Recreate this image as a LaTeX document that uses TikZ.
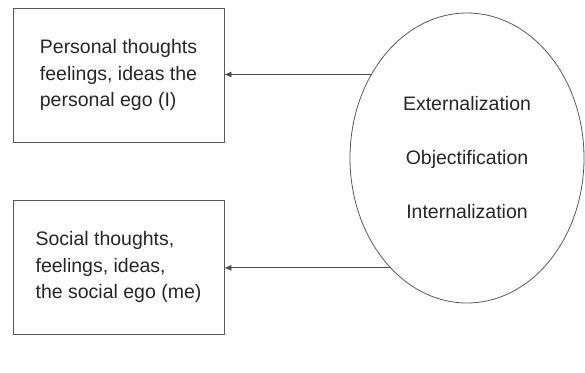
\documentclass[tikz,border=0pt]{standalone}
\usepackage{fontspec}
\setmainfont{Liberation Sans}
\usepackage{tikz}
\usetikzlibrary{arrows.meta,shapes.geometric}

\begin{document}
\begin{tikzpicture}[x=1pt,y=-1pt,
  box/.style={draw=black!65, line width=0.8pt, minimum width=211pt, minimum height=134pt, align=left, inner sep=0pt, text=black!85, font=\fontsize{19.5}{26.5}\selectfont},
  phase/.style={ellipse, draw=black!65, line width=0.8pt, minimum width=234pt, minimum height=290pt, inner sep=0pt, align=center, text=black!85, font=\fontsize{19.5}{54}\selectfont},
  arr/.style={-{Latex[length=7pt,width=6pt]}, color=black!70, line width=0.8pt}]
\useasboundingbox (0,0) rectangle (585,372);

\node[box] (b_1) at (118.5,75) {Personal thoughts\\feelings, ideas the\\personal ego (I)};
\node[box] (b_2) at (118.5,267) {Social thoughts,\\feelings, ideas,\\the social ego (me)};
\node[phase] (c_0) at (467,158) {Externalization\\Objectification\\Internalization};

\path[arr]
(c_0.139) edge (c_0.139 -| b_1.east)
(c_0.235) edge (c_0.235 -| b_2.east)
; %end path
\end{tikzpicture}
\end{document}
